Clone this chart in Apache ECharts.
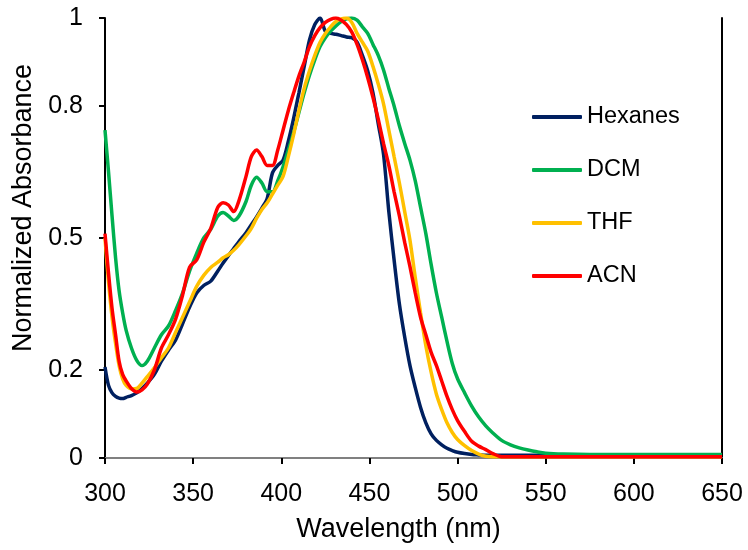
<!DOCTYPE html>
<html>
<head>
<meta charset="utf-8">
<script src="https://cdn.jsdelivr.net/npm/echarts@6/dist/echarts.min.js"></script>
<style>html,body{margin:0;padding:0;background:#fff}#c{width:748px;height:550px}</style>
</head>
<body>
<div id="c"></div>
<script>
const wavelengths = [300,302,304,306,308,310,312,315,318,321,324,328,332,336,340,344,348,352,356,360,364,367,370,373,376,380,383,386,389,392,395,398,401,404,407,410,413,416,419,422,425,428,431,434,437,440,443,446,449,452,455,458,461,464,467,470,473,476,479,482,485,488,491,494,497,500,504,508,512,516,520,525,530,535,540,545,550,560,575,600,625,650];
const hexanes = [0.207,0.165,0.148,0.14,0.136,0.135,0.138,0.142,0.148,0.158,0.17,0.19,0.22,0.245,0.268,0.305,0.343,0.375,0.392,0.402,0.425,0.443,0.46,0.476,0.492,0.512,0.53,0.548,0.568,0.59,0.648,0.665,0.677,0.72,0.772,0.83,0.89,0.95,0.985,1.0,0.97,0.965,0.963,0.96,0.957,0.955,0.945,0.915,0.88,0.83,0.76,0.69,0.56,0.45,0.35,0.275,0.21,0.16,0.115,0.08,0.055,0.04,0.03,0.022,0.017,0.013,0.01,0.008,0.007,0.006,0.006,0.006,0.006,0.006,0.006,0.006,0.006,0.006,0.006,0.006,0.006,0.006];
const dcm = [0.745,0.65,0.55,0.455,0.38,0.33,0.29,0.25,0.222,0.21,0.22,0.25,0.28,0.3,0.335,0.375,0.425,0.465,0.5,0.52,0.55,0.558,0.55,0.54,0.55,0.583,0.62,0.638,0.625,0.605,0.605,0.63,0.662,0.7,0.74,0.785,0.83,0.87,0.905,0.935,0.955,0.97,0.982,0.992,0.998,1.0,0.995,0.98,0.965,0.94,0.915,0.882,0.84,0.8,0.755,0.715,0.677,0.63,0.57,0.51,0.44,0.375,0.32,0.265,0.215,0.18,0.148,0.118,0.093,0.073,0.057,0.04,0.03,0.023,0.018,0.014,0.011,0.009,0.008,0.008,0.008,0.008];
const thf = [0.5,0.4,0.32,0.26,0.21,0.18,0.165,0.157,0.158,0.17,0.185,0.205,0.228,0.25,0.285,0.32,0.355,0.39,0.415,0.433,0.445,0.455,0.462,0.472,0.485,0.505,0.522,0.545,0.565,0.58,0.6,0.62,0.64,0.685,0.735,0.79,0.84,0.88,0.915,0.945,0.965,0.98,0.992,0.998,1.0,0.99,0.965,0.945,0.925,0.89,0.85,0.805,0.745,0.685,0.625,0.56,0.495,0.41,0.33,0.255,0.195,0.145,0.11,0.08,0.058,0.042,0.028,0.017,0.009,0.004,0.003,0.003,0.003,0.003,0.003,0.003,0.003,0.003,0.003,0.003,0.003,0.003];
const acn = [0.51,0.42,0.34,0.28,0.22,0.19,0.175,0.158,0.15,0.155,0.168,0.2,0.25,0.28,0.315,0.37,0.434,0.45,0.49,0.522,0.57,0.58,0.575,0.56,0.585,0.64,0.685,0.7,0.685,0.665,0.665,0.7,0.745,0.79,0.83,0.868,0.9,0.935,0.96,0.978,0.99,0.997,1.0,0.995,0.985,0.968,0.94,0.905,0.865,0.82,0.77,0.715,0.665,0.605,0.55,0.49,0.435,0.375,0.32,0.28,0.24,0.21,0.175,0.14,0.11,0.085,0.06,0.038,0.027,0.019,0.01,0.003,0.003,0.003,0.003,0.003,0.003,0.003,0.003,0.003,0.003,0.003];
const seriesNames = ['Hexanes','DCM','THF','ACN'];
const seriesColors = ['#002060','#00b050','#ffc000','#ff0000'];
const yTicks = [0,0.2,0.5,0.8,1];

const FONT = 'Liberation Sans, Arial, sans-serif';
const chart = echarts.init(document.getElementById('c'), null, {renderer:'canvas'});
const allVals = [hexanes, dcm, thf, acn];
const series = seriesNames.map((n,i)=>({
  name:n, type:'line', showSymbol:false, smooth:0.3,
  lineStyle:{width:3.5, color:seriesColors[i]}, itemStyle:{color:seriesColors[i]},
  data: wavelengths.map((w,j)=>[w, allVals[i][j]]),
  xAxisIndex:0, yAxisIndex:0, animation:false
}));
chart.setOption({
  backgroundColor:'#fff',
  animation:false,
  grid:{left:105, right:26, top:18, bottom:92},
  legend:{
    orient:'vertical', left:527, top:100, itemWidth:50, itemHeight:4, itemGap:29,
    icon:'roundRect',
    textStyle:{fontFamily:FONT, fontSize:23.5, color:'#000', lineHeight:23},
    data:seriesNames
  },
  xAxis:[{
    type:'value', min:300, max:650, interval:50,
    name:'Wavelength (nm)', nameLocation:'middle', nameGap:58,
    nameTextStyle:{fontFamily:FONT, fontSize:27, color:'#000', padding:[0,30,0,0]},
    axisLine:{lineStyle:{color:'#000', width:2}},
    axisTick:{show:true, inside:false, length:6, lineStyle:{color:'#000', width:2}},
    axisLabel:{fontFamily:FONT, fontSize:25, color:'#000', margin:24},
    splitLine:{show:false}
  },{
    type:'value', min:300, max:650, position:'top',
    axisLine:{show:true, lineStyle:{color:'#808080', width:2}},
    axisTick:{show:false}, axisLabel:{show:false}, splitLine:{show:false}
  }],
  yAxis:[{
    type:'value', min:0, max:1,
    name:'Normalized Absorbance', nameLocation:'middle', nameGap:68,
    nameTextStyle:{fontFamily:FONT, fontSize:27, color:'#000', padding:[0,0,0,60]},
    axisLine:{lineStyle:{color:'#000', width:2}},
    axisTick:{show:true, inside:false, length:6, lineStyle:{color:'#000', width:2}, customValues:yTicks},
    axisLabel:{fontFamily:FONT, fontSize:25, color:'#000', margin:22, customValues:yTicks,
      formatter:v=>String(Math.round(v*10)/10)},
    splitLine:{show:false}
  },{
    type:'value', min:0, max:1, position:'right',
    axisLine:{show:true, lineStyle:{color:'#000', width:2}},
    axisTick:{show:false}, axisLabel:{show:false}, splitLine:{show:false}
  }],
  series: series
});
</script>
</body>
</html>
